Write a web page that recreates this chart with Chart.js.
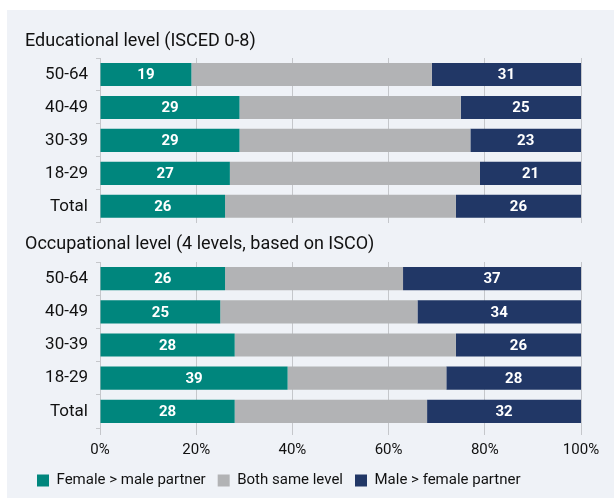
<!DOCTYPE html>
<html>
<head>
<meta charset="utf-8">
<script src="https://cdn.jsdelivr.net/npm/chart.js@4.4.1/dist/chart.umd.min.js"></script>
<style>
  html, body { margin: 0; padding: 0; background: #fff; overflow: hidden; }
  #panel { position: absolute; left: 7px; top: 10px; width: 607px; height: 488px; background: #eff2f7; }
  #top { position: absolute; left: 0; top: 0; }
  #bottom { position: absolute; left: 0; top: 220px; }
</style>
</head>
<body>
<div id="panel">
  <canvas id="top" width="607" height="231"></canvas>
  <canvas id="bottom" width="607" height="268"></canvas>
</div>
<script>
const ageGroups = ['50-64', '40-49', '30-39', '18-29', 'Total'];
const seriesNames = ['Female > male partner', 'Both same level', 'Male > female partner'];
const seriesColors = ['#00867d', '#b2b3b5', '#213766'];

// educational level (ISCED 0-8)
const eduFemale = [19, 29, 29, 27, 26];
const eduSame = [50, 46, 48, 52, 48];
const eduMale = [31, 25, 23, 21, 26];

// occupational level (4 levels, based on ISCO)
const occFemale = [26, 25, 28, 39, 28];
const occSame = [37, 41, 46, 33, 40];
const occMale = [37, 34, 26, 28, 32];

const FONT = 'Roboto, "Liberation Sans", sans-serif';
const GRID = '#c5c7cb';

// white numbers inside the coloured segments (not the grey one)
const valueLabels = {
  id: 'valueLabels',
  afterDatasetsDraw(chart) {
    const ctx = chart.ctx;
    ctx.save();
    ctx.fillStyle = '#fff';
    ctx.font = 'bold 15px ' + FONT;
    ctx.textAlign = 'center';
    ctx.textBaseline = 'middle';
    chart.data.datasets.forEach((ds, i) => {
      if (i === 1) return;
      chart.getDatasetMeta(i).data.forEach((bar, j) => {
        const cx = (bar.x + bar.base) / 2;
        ctx.fillText(String(ds.data[j]), cx, bar.y + 1);
      });
    });
    ctx.restore();
  }
};

function makeChart(el, title, female, same, male, isBottom) {
  return new Chart(el, {
    type: 'bar',
    data: {
      labels: ageGroups,
      datasets: [
        { label: seriesNames[0], data: female, backgroundColor: seriesColors[0] },
        { label: seriesNames[1], data: same, backgroundColor: seriesColors[1] },
        { label: seriesNames[2], data: male, backgroundColor: seriesColors[2] }
      ]
    },
    options: {
      indexAxis: 'y',
      responsive: false,
      animation: false,
      devicePixelRatio: 1,
      datasets: { bar: { categoryPercentage: 1, barPercentage: 0.7, borderWidth: 0 } },
      layout: { padding: { left: 18, right: 33, top: 0, bottom: 0 } },
      scales: {
        x: {
          stacked: true,
          min: 0,
          max: 100,
          border: { display: false },
          grid: { color: GRID, drawTicks: isBottom, tickLength: 7 },
          ticks: {
            display: isBottom,
            stepSize: 20,
            padding: 8,
            color: '#111',
            font: { family: FONT, size: 15, lineHeight: 1 },
            callback: v => v + '%'
          },
          afterFit: s => { if (isBottom) s.height = 33; }
        },
        y: {
          stacked: true,
          border: { display: false },
          grid: { drawOnChartArea: false, color: GRID, tickLength: 4 },
          ticks: { color: '#111', padding: 8, font: { family: FONT, size: 17 } },
          afterFit: s => { s.width = 75; }
        }
      },
      plugins: {
        title: {
          display: true,
          text: title,
          align: 'start',
          color: '#111',
          font: { family: FONT, size: 18, weight: 'normal' },
          padding: isBottom ? { top: 3.2, bottom: 7.2 } : { top: 20.2, bottom: 6.2 }
        },
        legend: {
          display: isBottom,
          position: 'bottom',
          align: 'start',
          labels: {
            color: '#111',
            boxWidth: 12,
            boxHeight: 12,
            padding: 12,
            font: { family: FONT, size: 15 }
          }
        },
        tooltip: { enabled: false }
      }
    },
    plugins: [valueLabels]
  });
}

makeChart(document.getElementById('top'), 'Educational level (ISCED 0-8)', eduFemale, eduSame, eduMale, false);
makeChart(document.getElementById('bottom'), 'Occupational level (4 levels, based on ISCO)', occFemale, occSame, occMale, true);
</script>
</body>
</html>
